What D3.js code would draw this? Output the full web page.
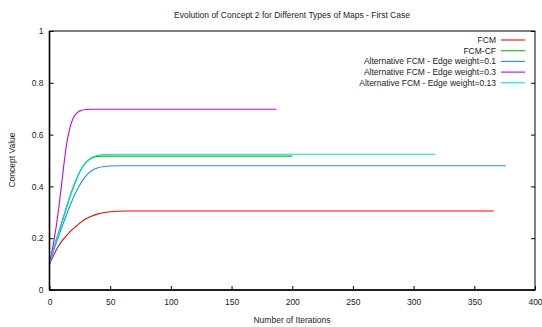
<!DOCTYPE html>
<html><head><meta charset="utf-8">
<script src="https://cdn.jsdelivr.net/npm/d3@7"></script>
<style>body{margin:0;background:#fff}svg{display:block}text{font-family:"Liberation Sans",Arial,sans-serif;fill:#222}</style>
</head><body><div id="chart"></div>
<script>
const title = "Evolution of Concept 2 for Different Types of Maps - First Case";
const xLabel = "Number of Iterations";
const yLabel = "Concept Value";
const xTicks = [0, 50, 100, 150, 200, 250, 300, 350, 400];
const yTicks = [0, 0.2, 0.4, 0.6, 0.8, 1];
const yTickLabels = ["0", "0.2", "0.4", "0.6", "0.8", "1"];
const seriesNames = ["FCM", "FCM-CF", "Alternative FCM - Edge weight=0.1", "Alternative FCM - Edge weight=0.3", "Alternative FCM - Edge weight=0.13"];
const seriesColors = ["#ff0000", "#00c000", "#2288ff", "#c000ff", "#00e0e0"];
// [iteration, value] pairs
const fcm = [[0,0.1],[3,0.13],[6,0.158],[10,0.188],[14,0.21],[18,0.23],[22,0.246],[26,0.262],[30,0.275],[35,0.286],[40,0.294],[45,0.299],[50,0.302],[55,0.304],[65,0.305],[366,0.305]];
const fcmCF = [[0,0.1],[3,0.155],[6,0.2],[9,0.245],[12,0.29],[15,0.335],[18,0.378],[21,0.415],[24,0.448],[27,0.474],[30,0.493],[33,0.505],[36,0.512],[40,0.516],[45,0.517],[200,0.517]];
const alt01 = [[0,0.1],[4,0.16],[8,0.215],[12,0.265],[16,0.315],[20,0.36],[24,0.398],[28,0.428],[32,0.45],[36,0.464],[40,0.472],[45,0.477],[50,0.479],[60,0.48],[376,0.48]];
const alt03 = [[0,0.1],[2,0.148],[4,0.2],[6,0.26],[8,0.33],[10,0.41],[12,0.49],[14,0.56],[16,0.61],[18,0.645],[20,0.668],[23,0.685],[26,0.693],[30,0.697],[35,0.698],[187,0.698]];
const alt013 = [[0,0.1],[3,0.152],[6,0.197],[9,0.24],[12,0.285],[15,0.33],[18,0.373],[21,0.41],[24,0.445],[27,0.472],[30,0.492],[33,0.506],[36,0.514],[40,0.52],[45,0.523],[55,0.524],[318,0.524]];
const seriesData = [fcm, fcmCF, alt01, alt03, alt013];

const W = 542, H = 327;
const m = {l: 49.5, r: 7, t: 31, b: 37};
const svg = d3.select("#chart").append("svg").attr("width", W).attr("height", H);
const x = d3.scaleLinear().domain([0, 400]).range([m.l, W - m.r]);
const y = d3.scaleLinear().domain([0, 1]).range([H - m.b, m.t]);
const fs = "8.5px";

const xa = svg.append("g").attr("transform", `translate(0,${H - m.b})`)
  .call(d3.axisBottom(x).tickValues(xTicks).tickSize(-4).tickPadding(9).tickFormat(d3.format("d")));
const ya = svg.append("g").attr("transform", `translate(${m.l},0)`)
  .call(d3.axisLeft(y).tickValues(yTicks).tickSize(-4).tickPadding(6).tickFormat((d, i) => yTickLabels[i]));
const yr = svg.append("g").attr("transform", `translate(${W - m.r},0)`)
  .call(d3.axisRight(y).tickValues(yTicks).tickSize(-4).tickFormat(""));
[xa, ya, yr].forEach(g => {
  g.select(".domain").remove();
  g.selectAll("line").attr("stroke", "#000");
  g.selectAll("text").style("font-size", fs).style("font-family", "Liberation Sans, Arial, sans-serif").attr("fill", "#222");
});

const line = d3.line().x(d => x(d[0])).y(d => y(d[1])).curve(d3.curveMonotoneX);
seriesData.forEach((s, i) => {
  svg.append("path").datum(s).attr("d", line).attr("fill", "none")
    .attr("stroke", seriesColors[i]).attr("stroke-width", 1.1);
});

svg.append("rect").attr("x", m.l).attr("y", m.t).attr("width", W - m.r - m.l).attr("height", H - m.b - m.t)
  .attr("fill", "none").attr("stroke", "#000").attr("stroke-width", 1);
svg.append("line").attr("x1", m.l).attr("x2", m.l).attr("y1", m.t).attr("y2", H - m.b).attr("stroke", "#000").attr("stroke-width", 1.6);
svg.append("line").attr("x1", m.l).attr("x2", W - m.r).attr("y1", H - m.b).attr("y2", H - m.b).attr("stroke", "#000").attr("stroke-width", 1.6);

const lg = svg.append("g");
seriesNames.forEach((n, i) => {
  const yy = 40 + i * 10.7;
  lg.append("text").attr("x", 496).attr("y", yy).attr("dy", "0.35em").attr("text-anchor", "end").style("font-size", fs).text(n);
  lg.append("line").attr("x1", 501).attr("x2", 525).attr("y1", yy).attr("y2", yy).attr("stroke", seriesColors[i]).attr("stroke-width", 1.1);
});

svg.append("text").attr("x", 292).attr("y", 18).attr("text-anchor", "middle").style("font-size", fs).text(title);
svg.append("text").attr("x", 292).attr("y", 323).attr("text-anchor", "middle").style("font-size", fs).text(xLabel);
svg.append("text").attr("transform", `translate(15,${160}) rotate(-90)`).attr("text-anchor", "middle").style("font-size", fs).text(yLabel);
</script></body></html>
